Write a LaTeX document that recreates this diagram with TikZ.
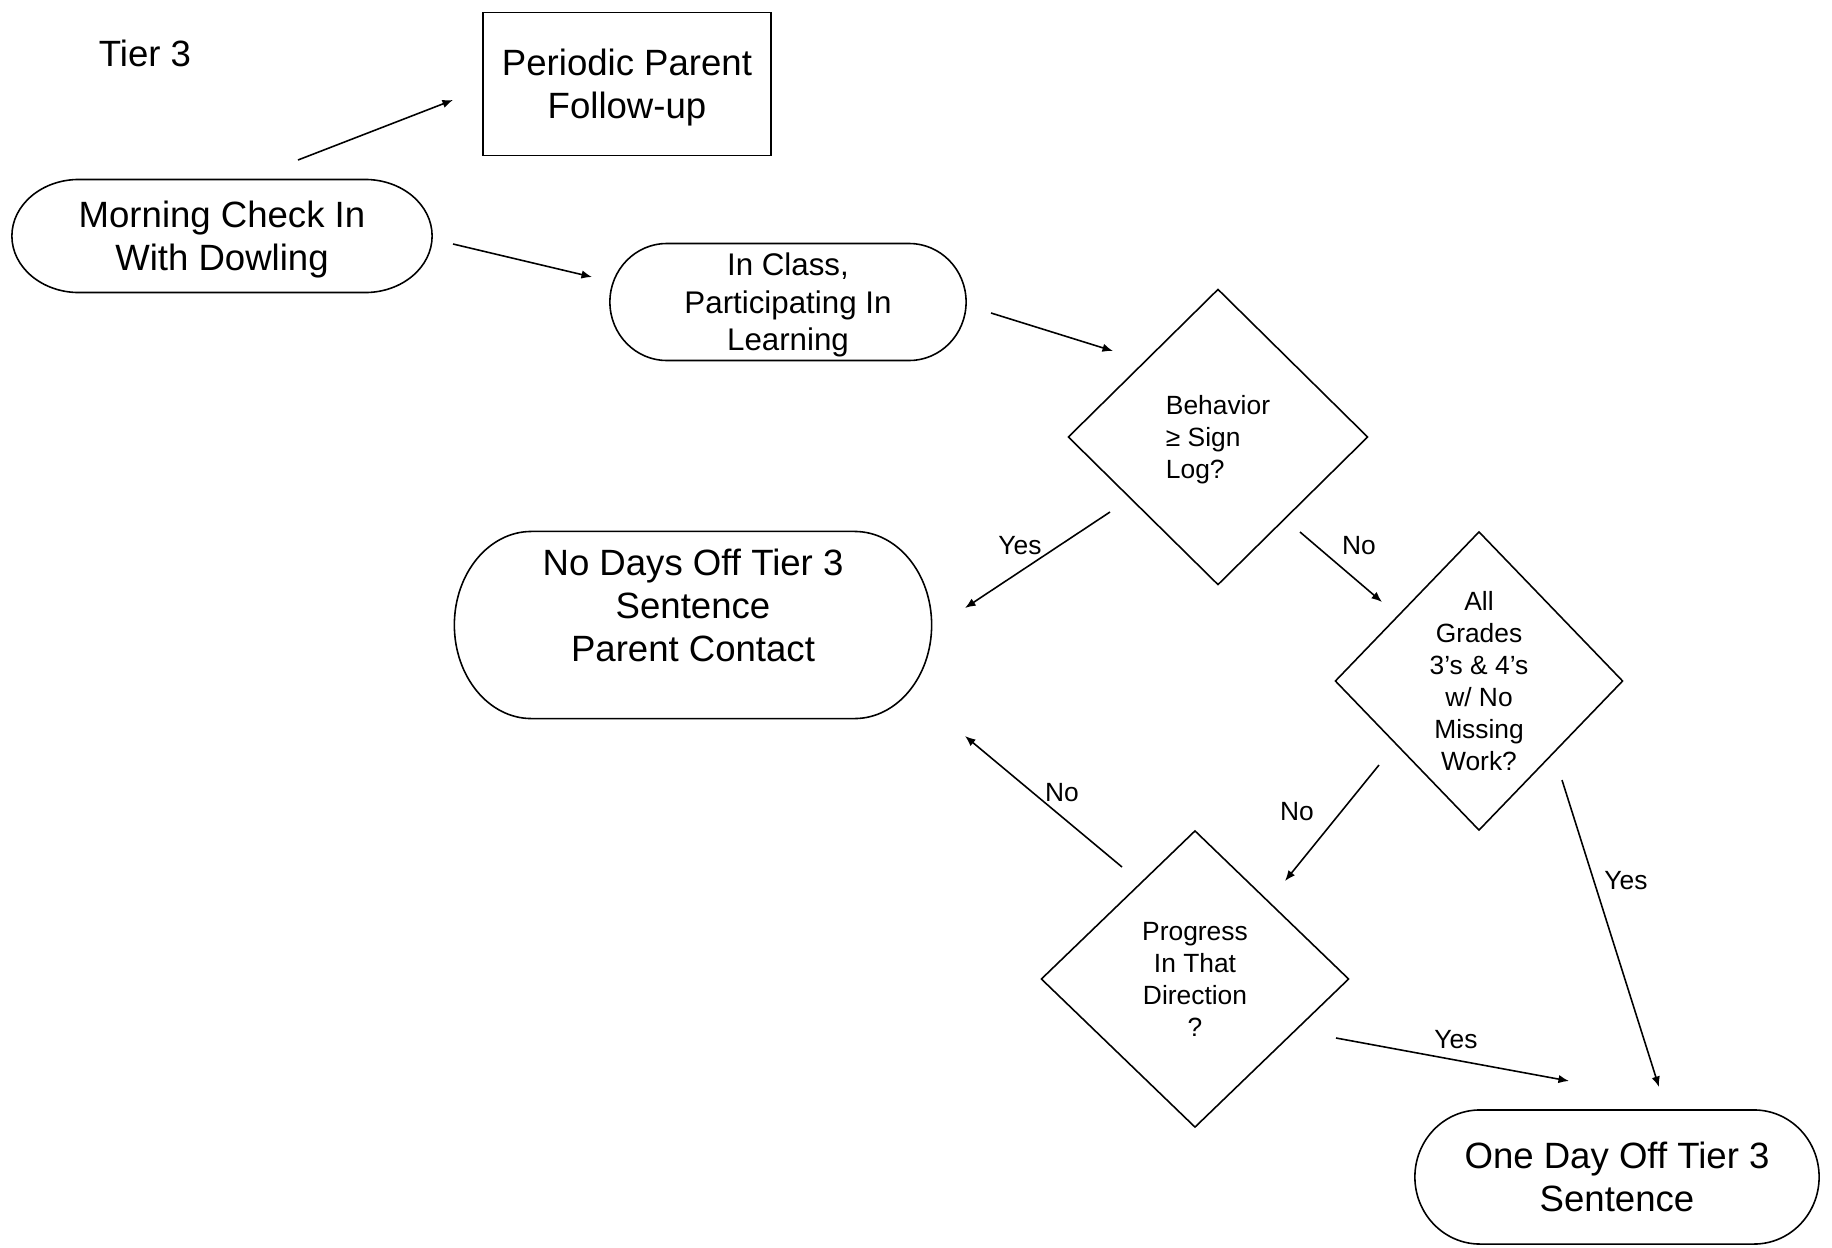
\documentclass[tikz,border=0pt]{standalone}
\usepackage{fontspec}
\setmainfont{Liberation Sans}
\usetikzlibrary{shapes.geometric,arrows.meta}

\newcommand{\fbig}{\fontsize{10.4}{12.2}\selectfont}
\newcommand{\fmid}{\fontsize{8.9}{10.7}\selectfont}
\newcommand{\fsml}{\fontsize{7.5}{9.1}\selectfont}

% outline of a terminator node: #1 node, #2 x radius, #3 y radius
\newcommand{\termline}[3]{%
  \draw ([xshift=#2]#1.north west) -- ([xshift=-#2]#1.north east)
    arc[start angle=90,end angle=-90,x radius=#2,y radius=#3]
    -- ([xshift=#2]#1.south west)
    arc[start angle=270,end angle=90,x radius=#2,y radius=#3] -- cycle;}

\begin{document}
\begin{tikzpicture}[
   x=0.01cm, y=-0.01cm, line width=0.45pt,
   term/.style={rectangle,inner sep=0pt,outer sep=0pt,align=center,
    text depth=0pt},
   box/.style={rectangle,draw,inner sep=0pt,outer sep=0pt,align=center,
    text depth=0pt},
   decide/.style={diamond,draw,inner sep=0pt,outer sep=0pt,align=center,
    font=\fsml},
   lbl/.style={font=\fsml,inner sep=1pt},
   arr/.style={-{Latex[length=3pt,width=2.4pt]}}
   ]
  \useasboundingbox (0,0) rectangle (1832,1248);

  % -- top row
  \node[font=\fbig] at (145,53) (tier) {Tier 3};
  \node[box,font=\fbig,minimum width=2.88cm,minimum height=1.43cm]
    at (627,84) (parent) {Periodic Parent\\Follow-up};
  \node[term,font=\fbig,minimum width=4.2cm,minimum height=1.13cm]
    at (222,236) (morning) {Morning Check In\\With Dowling};
  \node[term,font=\fmid,minimum width=3.56cm,minimum height=1.17cm]
    at (788,302) (inclass) {In Class,\\Participating In\\Learning};

  % -- decisions
  \node[decide,align=left,text depth=0pt,minimum width=2.99cm,
    minimum height=2.95cm] at (1218,437) (behav) {Behavior\\≥ Sign\\Log?};
  \node[decide,minimum width=2.87cm,minimum height=2.98cm]
    at (1479,681) (grades) {All\\Grades\\3’s \& 4’s\\w/ No\\Missing\\Work?};
  \node[decide,minimum width=3.07cm,minimum height=2.96cm]
    at (1195,979) (progress) {Progress\\In That\\Direction\\?};

  % -- outcomes
  \node[term,font=\fbig,minimum width=4.77cm,minimum height=1.87cm,
    text depth=0.4cm] at (693,625) (nodays)
    {No Days Off Tier 3\\Sentence\\Parent Contact};
  \node[term,font=\fbig,minimum width=4.04cm,minimum height=1.34cm]
    at (1617,1177) (oneday) {One Day Off Tier 3\\Sentence};

  \termline{morning}{0.67cm}{0.565cm}
  \termline{inclass}{0.57cm}{0.585cm}
  \termline{nodays}{0.77cm}{0.935cm}
  \termline{oneday}{0.65cm}{0.67cm}

  % -- arrow ends
  \coordinate (a1) at (298,160);   \coordinate (b1) at (453,100);
  \coordinate (a2) at (453,244);   \coordinate (b2) at (592,277);
  \coordinate (a3) at (991,313);   \coordinate (b3) at (1113,351);
  \coordinate (a4) at (1110,512);  \coordinate (b4) at (965,608);
  \coordinate (a5) at (1300,532);  \coordinate (b5) at (1382,602);
  \coordinate (a6) at (1379,765);  \coordinate (b6) at (1285,881);
  \coordinate (a7) at (1562,780);  \coordinate (b7) at (1659,1087);
  \coordinate (a8) at (1122,867);  \coordinate (b8) at (965,736);
  \coordinate (a9) at (1336,1038); \coordinate (b9) at (1569,1081);

  \draw[arr] (a1) -- (b1);
  \draw[arr] (a2) -- (b2);
  \draw[arr] (a3) -- (b3);
  \draw[arr] (a4) -- (b4);
  \draw[arr] (a5) -- (b5);
  \draw[arr] (a6) -- (b6);
  \draw[arr] (a7) -- (b7);
  \draw[arr] (a8) -- (b8);
  \draw[arr] (a9) -- (b9);

  % -- labels
  \node[lbl] at (1020,546) (yes1) {Yes};
  \node[lbl] at (1359,546) (no1) {No};
  \node[lbl] at (1297,812) (no2) {No};
  \node[lbl] at (1626,881) (yes2) {Yes};
  \node[lbl] at (1062,793) (no3) {No};
  \node[lbl] at (1456,1040) (yes3) {Yes};

\end{tikzpicture}
\end{document}
